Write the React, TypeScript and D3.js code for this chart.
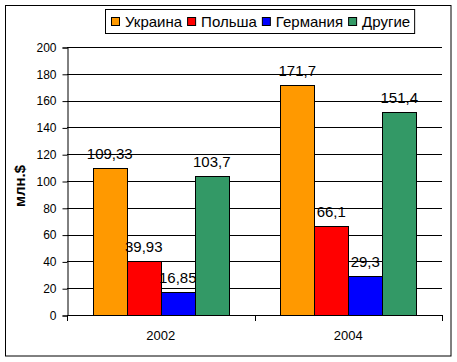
import React, { useEffect, useRef } from 'react';
import * as d3 from 'd3';

const years = ['2002', '2004'];
const seriesNames = ['Украина', 'Польша', 'Германия', 'Другие'];
const seriesColors = ['#FF9900', '#FF0000', '#0000FF', '#339966'];
const ukraine = [109.33, 171.7];
const poland = [39.93, 66.1];
const germany = [16.85, 29.3];
const others = [103.7, 151.4];
const labelText = [
  ['109,33', '171,7'],
  ['39,93', '66,1'],
  ['16,85', '29,3'],
  ['103,7', '151,4'],
];
const yTicks = [0, 20, 40, 60, 80, 100, 120, 140, 160, 180, 200];

const App: React.FC = () => {
  const svgRef = useRef<SVGSVGElement>(null);
  const width = 457;
  const height = 362;

  useEffect(() => {
    if (!svgRef.current) return;
    const svg = d3.select(svgRef.current);
    svg.selectAll('*').remove();

    const values = [ukraine, poland, germany, others];
    const font = 'Arial, "Liberation Sans", sans-serif';

    // outer frame
    svg.append('rect')
      .attr('x', 5.5).attr('y', 5.5)
      .attr('width', 445.5).attr('height', 350.5)
      .attr('fill', '#fff')
      .attr('stroke', '#000')
      .attr('stroke-width', 1);

    const left = 67, right = 442, top = 47, bottom = 315;

    const x = d3.scaleBand<string>().domain(years).range([left, right]).padding(0);
    const xs = d3.scaleBand<string>()
      .domain(seriesNames)
      .range([0, x.bandwidth()])
      .paddingInner(0)
      .paddingOuter(0.757);
    const y = d3.scaleLinear().domain([0, 200]).range([bottom, top]);

    // gridlines
    svg.append('g')
      .selectAll('line')
      .data(yTicks.filter(d => d > 0))
      .join('line')
      .attr('x1', left).attr('x2', right)
      .attr('y1', d => Math.round(y(d)) + 0.5)
      .attr('y2', d => Math.round(y(d)) + 0.5)
      .attr('stroke', '#000');

    // y axis
    const yAxis = svg.append('g')
      .attr('transform', `translate(${left + 0.5},0.5)`)
      .call(d3.axisLeft(y).tickValues(yTicks).tickSize(5).tickPadding(6).tickFormat(d3.format('d')));
    yAxis.select('.domain').attr('stroke', '#000');
    yAxis.selectAll('.tick line').attr('stroke', '#000');
    yAxis.selectAll('.tick text')
      .attr('font-family', font)
      .attr('font-size', '12px')
      .attr('fill', '#000');

    // bars
    seriesNames.forEach((name, si) => {
      svg.append('g')
        .selectAll('rect')
        .data(values[si])
        .join('rect')
        .attr('x', (d, i) => Math.round(x(years[i])! + xs(name)!) + 0.5)
        .attr('y', d => Math.round(y(d)) + 0.5)
        .attr('width', Math.round(xs.bandwidth()))
        .attr('height', d => Math.round(y(0)) - Math.round(y(d)))
        .attr('fill', seriesColors[si])
        .attr('stroke', '#000')
        .attr('stroke-width', 1);
    });

    // x axis
    svg.append('line')
      .attr('x1', left).attr('x2', right)
      .attr('y1', bottom + 0.5).attr('y2', bottom + 0.5)
      .attr('stroke', '#000');
    const xTickPos = [left, ...years.map(yy => x(yy)! + x.bandwidth())];
    svg.append('g')
      .selectAll('line')
      .data(xTickPos)
      .join('line')
      .attr('x1', d => Math.round(d) + 0.5).attr('x2', d => Math.round(d) + 0.5)
      .attr('y1', bottom).attr('y2', bottom + 6)
      .attr('stroke', '#000');
    svg.append('g')
      .selectAll('text')
      .data(years)
      .join('text')
      .attr('x', d => x(d)! + x.bandwidth() / 2)
      .attr('y', 340)
      .attr('text-anchor', 'middle')
      .attr('font-family', font)
      .attr('font-size', '13px')
      .text(d => d);

    // value labels
    seriesNames.forEach((name, si) => {
      svg.append('g')
        .selectAll('text')
        .data(values[si])
        .join('text')
        .attr('x', (d, i) => x(years[i])! + xs(name)! + xs.bandwidth() / 2)
        .attr('y', d => y(d) - 9)
        .attr('text-anchor', 'middle')
        .attr('font-family', font)
        .attr('font-size', '15px')
        .attr('fill', '#000')
        .text((d, i) => labelText[si][i]);
    });

    // y label
    svg.append('text')
      .attr('transform', `translate(25,186) rotate(-90)`)
      .attr('text-anchor', 'middle')
      .attr('font-family', font)
      .attr('font-size', '15px')
      .attr('font-weight', 'bold')
      .text('млн.$');

    // legend
    const legend = svg.append('g');
    const legendBox = legend.append('rect')
      .attr('y', 9.5).attr('height', 24)
      .attr('fill', '#fff').attr('stroke', '#000');
    let cx = 111;
    seriesNames.forEach((name, si) => {
      legend.append('rect')
        .attr('x', cx + 0.5).attr('y', 17.5)
        .attr('width', 8).attr('height', 8)
        .attr('fill', seriesColors[si])
        .attr('stroke', '#000');
      const t = legend.append('text')
        .attr('x', cx + 14)
        .attr('y', 27)
        .attr('font-family', font)
        .attr('font-size', '15px')
        .text(name);
      const w = (t.node() as SVGTextElement).getComputedTextLength();
      cx = cx + 14 + w + 5;
    });
    legendBox.attr('x', 105.5).attr('width', cx - 5 + 4 - 105);
  }, []);

  return (
    <div style={{ position: 'fixed', left: 0, top: 0 }}>
      <svg ref={svgRef} width={width} height={height} />
    </div>
  );
};

export default App;
